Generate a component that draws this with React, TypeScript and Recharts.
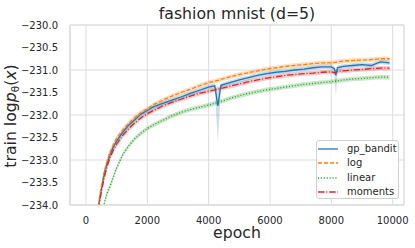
import React from "react";
import {
  ComposedChart,
  Line,
  Area,
  XAxis,
  YAxis,
  CartesianGrid,
  ReferenceArea,
} from "recharts";

const epochs = [400, 500, 600, 700, 800, 900, 1000, 1200, 1400, 1600, 1800, 2000, 2200, 2500, 2800, 3100, 3400, 3700, 4000, 4200, 4300, 4400, 4700, 5000, 5300, 5600, 5900, 6200, 6500, 6800, 7100, 7400, 7700, 8000, 8100, 8150, 8200, 8400, 8700, 9000, 9300, 9600, 9900];

const gpBandit = [-234.05, -233.65, -233.3, -233.05, -232.85, -232.7, -232.58, -232.38, -232.22, -232.1, -231.98, -231.9, -231.82, -231.74, -231.67, -231.6, -231.52, -231.45, -231.38, -231.35, -231.8, -231.34, -231.28, -231.22, -231.17, -231.12, -231.08, -231.05, -231.03, -231.0, -230.98, -230.95, -230.93, -230.93, -230.97, -231.12, -230.95, -230.92, -230.9, -230.88, -230.9, -230.82, -230.84];
const gpDown = [0.06, 0.06, 0.06, 0.06, 0.05, 0.05, 0.05, 0.05, 0.05, 0.05, 0.05, 0.05, 0.05, 0.05, 0.05, 0.05, 0.05, 0.05, 0.05, 0.06, 0.8, 0.06, 0.05, 0.05, 0.05, 0.05, 0.05, 0.05, 0.05, 0.05, 0.05, 0.05, 0.05, 0.05, 0.06, 0.45, 0.06, 0.05, 0.05, 0.05, 0.05, 0.05, 0.05];
const gpUp = [0.06, 0.06, 0.06, 0.06, 0.05, 0.05, 0.05, 0.05, 0.05, 0.05, 0.05, 0.05, 0.05, 0.05, 0.05, 0.05, 0.05, 0.05, 0.05, 0.05, 0.3, 0.05, 0.05, 0.05, 0.05, 0.05, 0.05, 0.05, 0.05, 0.05, 0.05, 0.05, 0.05, 0.05, 0.05, 0.12, 0.05, 0.05, 0.05, 0.05, 0.05, 0.05, 0.05];

const logS = [-234.0, -233.6, -233.25, -233.0, -232.8, -232.65, -232.52, -232.33, -232.18, -232.05, -231.94, -231.86, -231.77, -231.67, -231.58, -231.5, -231.43, -231.35, -231.28, -231.25, -231.23, -231.21, -231.15, -231.1, -231.06, -231.02, -230.98, -230.95, -230.92, -230.9, -230.88, -230.86, -230.84, -230.84, -230.83, -230.83, -230.82, -230.8, -230.79, -230.78, -230.77, -230.75, -230.75];
const logSpread = [0.08, 0.08, 0.07, 0.07, 0.07, 0.06, 0.06, 0.06, 0.06, 0.06, 0.05, 0.05, 0.05, 0.05, 0.05, 0.05, 0.05, 0.05, 0.05, 0.05, 0.05, 0.05, 0.05, 0.05, 0.05, 0.05, 0.05, 0.05, 0.05, 0.05, 0.05, 0.05, 0.05, 0.05, 0.05, 0.05, 0.05, 0.05, 0.05, 0.05, 0.05, 0.05, 0.05];

const linearS = [-235.2, -234.5, -233.95, -233.72, -233.56, -233.36, -233.18, -232.88, -232.68, -232.52, -232.4, -232.3, -232.22, -232.12, -232.02, -231.94, -231.88, -231.83, -231.78, -231.74, -231.72, -231.7, -231.63, -231.57, -231.52, -231.48, -231.44, -231.41, -231.38, -231.35, -231.32, -231.3, -231.28, -231.26, -231.25, -231.25, -231.24, -231.22, -231.2, -231.19, -231.17, -231.16, -231.16];
const linearSpread = [0.06, 0.06, 0.06, 0.06, 0.06, 0.06, 0.06, 0.05, 0.05, 0.05, 0.05, 0.05, 0.05, 0.05, 0.05, 0.05, 0.05, 0.05, 0.05, 0.05, 0.05, 0.05, 0.05, 0.05, 0.05, 0.05, 0.05, 0.05, 0.05, 0.05, 0.05, 0.05, 0.05, 0.05, 0.05, 0.05, 0.05, 0.05, 0.05, 0.05, 0.05, 0.05, 0.05];

const momentsS = [-234.1, -233.72, -233.38, -233.12, -232.92, -232.77, -232.65, -232.45, -232.3, -232.17, -232.06, -231.97, -231.9, -231.8, -231.72, -231.65, -231.58, -231.52, -231.47, -231.44, -231.42, -231.41, -231.36, -231.31, -231.26, -231.22, -231.18, -231.15, -231.12, -231.1, -231.08, -231.07, -231.05, -231.04, -231.06, -231.05, -231.03, -231.02, -231.0, -230.99, -230.97, -230.96, -230.96];
const momentsSpread = [0.07, 0.07, 0.07, 0.06, 0.06, 0.06, 0.06, 0.06, 0.06, 0.05, 0.05, 0.05, 0.05, 0.05, 0.05, 0.05, 0.05, 0.05, 0.05, 0.05, 0.05, 0.05, 0.05, 0.05, 0.05, 0.05, 0.05, 0.05, 0.05, 0.05, 0.05, 0.05, 0.05, 0.05, 0.05, 0.05, 0.05, 0.05, 0.05, 0.05, 0.05, 0.05, 0.05];

const xTicks = [0, 2000, 4000, 6000, 8000, 10000];
const yTicks = [-234, -233.5, -233, -232.5, -232, -231.5, -231, -230.5, -230];

const seriesNames = ["gp_bandit", "log", "linear", "moments"];
const colors = ["#1f77b4", "#ff7f0e", "#2ca02c", "#d62728"];
const dashes = ["", "4 2", "1.1 1.8", "6.5 1.8 1.1 1.8"];

const data = epochs.map((e, i) => ({
  epoch: e,
  gp: gpBandit[i],
  gpBand: [gpBandit[i] - gpDown[i], gpBandit[i] + gpUp[i]],
  log: logS[i],
  logBand: [logS[i] - logSpread[i], logS[i] + logSpread[i]],
  linear: linearS[i],
  linearBand: [linearS[i] - linearSpread[i], linearS[i] + linearSpread[i]],
  moments: momentsS[i],
  momentsBand: [momentsS[i] - momentsSpread[i], momentsS[i] + momentsSpread[i]],
}));

const FONT = "'DejaVu Sans', sans-serif";
const TEXT = "#262626";
const GRID = "#dcdcdc";
const LW = 1.3;

const fmtY = (v: number) => v.toFixed(1).replace("-", "\u2212");

export default function App() {
  return (
    <div style={{ position: "absolute", left: 0, top: 0, width: 415, height: 248, background: "#fff", fontFamily: FONT }}>
      <ComposedChart
        width={415}
        height={248}
        data={data}
        margin={{ top: 25, right: 11, bottom: 0, left: 0 }}
      >
        <CartesianGrid stroke={GRID} strokeWidth={1} />
        <XAxis
          dataKey="epoch"
          type="number"
          domain={[-520, 10370]}
          ticks={xTicks}
          allowDataOverflow
          tickLine={false}
          axisLine={{ stroke: GRID }}
          tick={{ fontSize: 10, fill: TEXT, fontFamily: FONT }}
          tickMargin={6}
          height={43}
        />
        <YAxis
          type="number"
          domain={[-234, -230]}
          ticks={yTicks}
          allowDataOverflow
          tickLine={false}
          axisLine={{ stroke: GRID }}
          tickFormatter={fmtY}
          tick={{ fontSize: 10, fill: TEXT, fontFamily: FONT }}
          tickMargin={6}
          width={70}
        />
        <ReferenceArea x1={-520} x2={10370} y1={-234} y2={-230} fill="none" stroke={GRID} strokeWidth={1} ifOverflow="visible" />
        <Area dataKey="linearBand" type="linear" stroke="none" fill={colors[2]} fillOpacity={0.25} isAnimationActive={false} />
        <Area dataKey="momentsBand" type="linear" stroke="none" fill={colors[3]} fillOpacity={0.25} isAnimationActive={false} />
        <Area dataKey="logBand" type="linear" stroke="none" fill={colors[1]} fillOpacity={0.25} isAnimationActive={false} />
        <Area dataKey="gpBand" type="linear" stroke="none" fill={colors[0]} fillOpacity={0.25} isAnimationActive={false} />
        <Line dataKey="gp" type="linear" stroke={colors[0]} strokeWidth={LW} dot={false} isAnimationActive={false} />
        <Line dataKey="log" type="linear" stroke={colors[1]} strokeWidth={LW} strokeDasharray={dashes[1]} dot={false} isAnimationActive={false} />
        <Line dataKey="linear" type="linear" stroke={colors[2]} strokeWidth={LW} strokeDasharray={dashes[2]} dot={false} isAnimationActive={false} />
        <Line dataKey="moments" type="linear" stroke={colors[3]} strokeWidth={LW} strokeDasharray={dashes[3]} dot={false} isAnimationActive={false} />
      </ComposedChart>

      <div style={{ position: "absolute", left: 70, width: 334, top: 4, textAlign: "center", fontSize: 15.7, color: TEXT, lineHeight: "19px" }}>
        fashion mnist (d=5)
      </div>
      <div style={{ position: "absolute", left: 70, width: 334, top: 225, textAlign: "center", fontSize: 15.7, color: TEXT, lineHeight: "15px" }}>
        epoch
      </div>
      <div
        style={{
          position: "absolute",
          left: 13,
          top: 116,
          transform: "translate(-50%, -50%) rotate(-90deg)",
          whiteSpace: "nowrap",
          fontSize: 15.7,
          color: TEXT,
          lineHeight: "20px",
        }}
      >
        train log<i>p</i>
        <sub style={{ fontSize: 10.5, verticalAlign: "-3px" }}>θ</sub>(<i>x</i>)
      </div>

      <div
        style={{
          position: "absolute",
          left: 316,
          top: 140,
          width: 83,
          height: 59,
          border: "1px solid #d0d0d0",
          borderRadius: 3,
          background: "rgba(255,255,255,0.85)",
          boxSizing: "border-box",
        }}
      >
        {seriesNames.map((n, i) => (
          <div key={n} style={{ position: "absolute", left: 1, top: 1 + i * 14.3, height: 14, display: "flex", alignItems: "center" }}>
            <svg width={21} height={14} style={{ display: "block" }}>
              <line x1={0} y1={7} x2={20} y2={7} stroke={colors[i]} strokeWidth={LW} strokeDasharray={dashes[i] || undefined} />
            </svg>
            <span style={{ marginLeft: 8, fontSize: 10, color: TEXT, lineHeight: "14px" }}>{n}</span>
          </div>
        ))}
      </div>
    </div>
  );
}
